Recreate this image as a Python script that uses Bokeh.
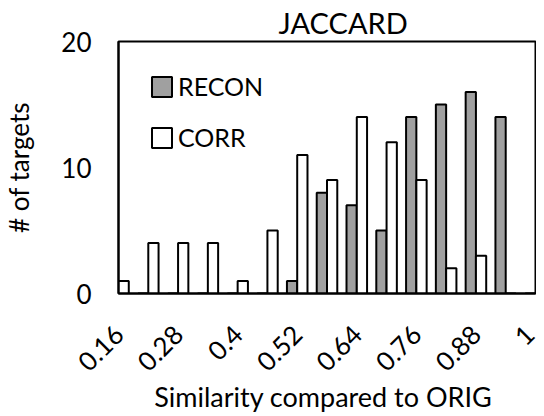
import math
from bokeh.plotting import figure
from bokeh.layouts import column
from bokeh.models import ColumnDataSource, FixedTicker, Legend, LegendItem, Title, Range1d, Div
from bokeh.embed import file_html
from bokeh.resources import INLINE

# ---- data ----
bins = [0.16, 0.22, 0.28, 0.34, 0.40, 0.46, 0.52, 0.58, 0.64, 0.70, 0.76, 0.82, 0.88, 0.94, 1.00]
recon = [0, 0, 0, 0, 0, 0, 1, 8, 7, 5, 14, 15, 16, 14, 0]
corr = [1, 4, 4, 4, 1, 5, 11, 9, 14, 12, 9, 2, 3, 0, 0]
tick_values = [0.16, 0.28, 0.40, 0.52, 0.64, 0.76, 0.88, 1.00]
tick_labels = ["0.16", "0.28", "0.4", "0.52", "0.64", "0.76", "0.88", "1"]
y_ticks = [0, 10, 20]
x_title = "Similarity compared to ORIG"
y_title = "# of targets"
chart_title = "JACCARD"

FONT = "Lato"
step = bins[1] - bins[0]
bw = step * 0.345

src = ColumnDataSource(dict(
    x_recon=[b - bw / 2 for b in bins],
    x_corr=[b + bw / 2 for b in bins],
    recon=recon,
    corr=corr,
))

W = 536
TOTAL_H = 400
BL, BR, BT, BB = 111, 1, 41, 96
PH = BT + 252 + BB     # figure height
DH = TOTAL_H - PH      # height of the x-title strip below
p = figure(width=W, height=PH, output_backend="svg", toolbar_location=None,
           x_range=Range1d(bins[0], bins[-1]), y_range=Range1d(0, 20),
           min_border_left=BL, min_border_right=BR, min_border_top=BT, min_border_bottom=BB)

p.title.visible = False
t = Title(text=chart_title, align="left", offset=160, vertical_align="top", text_font=FONT,
          text_font_size="29px", text_font_style="normal", text_color="black", standoff=0)
p.add_layout(t, "above")

r1 = p.vbar(x="x_recon", top="recon", width=bw, source=src,
            fill_color="#a0a0a0", line_color="black", line_width=2)
r2 = p.vbar(x="x_corr", top="corr", width=bw, source=src,
            fill_color="white", line_color="black", line_width=2)

p.xgrid.visible = False
p.ygrid.visible = False
p.outline_line_color = "black"
p.outline_line_width = 2
p.background_fill_color = "white"
p.border_fill_color = "white"

xa = p.xaxis[0]
xa.ticker = FixedTicker(ticks=tick_values)
xa.major_label_overrides = {v: l for v, l in zip(tick_values, tick_labels)}
xa.major_label_orientation = math.pi / 4
xa.major_tick_out = 0
xa.major_tick_in = 0
xa.minor_tick_out = 0
xa.minor_tick_in = 0
xa.axis_line_color = "black"
xa.axis_line_width = 2
xa.major_label_text_font = FONT
xa.major_label_text_font_size = "26px"
xa.major_label_text_color = "black"
xa.major_label_standoff = 36

ya = p.yaxis[0]
ya.ticker = FixedTicker(ticks=y_ticks)
ya.major_tick_out = 0
ya.major_tick_in = 0
ya.minor_tick_out = 0
ya.minor_tick_in = 0
ya.axis_line_color = "black"
ya.axis_line_width = 2
ya.major_label_text_font = FONT
ya.major_label_text_font_size = "26px"
ya.major_label_text_color = "black"
ya.major_label_standoff = 27
ya.major_label_orientation = "horizontal"
ya.axis_label = y_title
ya.axis_label_text_font = FONT
ya.axis_label_text_font_size = "26px"
ya.axis_label_text_font_style = "normal"
ya.axis_label_text_color = "black"
ya.axis_label_standoff = 23

legend = Legend(items=[LegendItem(label="RECON", renderers=[r1]),
                       LegendItem(label="CORR", renderers=[r2])],
                location=(31, 141), padding=0, margin=0, spacing=21,
                glyph_width=25, glyph_height=25, label_standoff=4,
                label_text_font=FONT, label_text_font_size="25px", label_text_color="black",
                border_line_alpha=0, background_fill_alpha=0)
p.add_layout(legend)

xt = Div(text=x_title, width=W, height=DH, margin=0,
         styles={"font-family": FONT, "font-size": "27px", "line-height": "16px",
                 "color": "black", "text-align": "center", "white-space": "nowrap",
                 "overflow": "visible",
                 "padding-left": f"{BL}px", "padding-right": f"{BR}px",
                 "box-sizing": "border-box"})

layout = column(p, xt, spacing=0)

open("out.html", "w").write(file_html(layout, INLINE))
